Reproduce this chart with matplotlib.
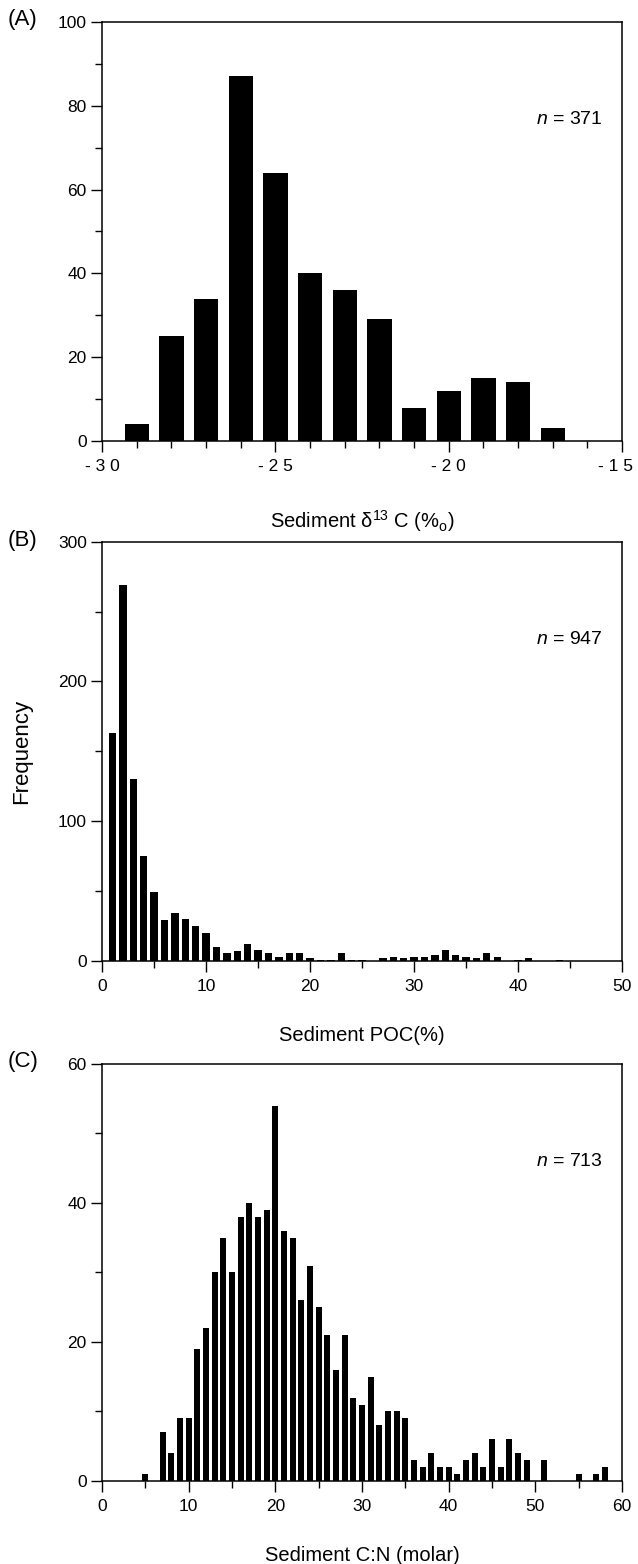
import matplotlib
matplotlib.use("Agg")
import matplotlib.pyplot as plt
import matplotlib.transforms as mtransforms
from matplotlib.ticker import MultipleLocator, FixedLocator

plt.rcParams['font.family'] = ['Liberation Sans', 'DejaVu Sans']
plt.rcParams['mathtext.fontset'] = 'custom'
plt.rcParams['mathtext.rm'] = 'Liberation Sans'
plt.rcParams['mathtext.it'] = 'Liberation Sans:italic'

# (A) sediment d13C, one bar per permil class
d13c_centres = [-29, -28, -27, -26, -25, -24, -23, -22, -21, -20, -19, -18, -17]
d13c_counts = [4, 25, 34, 87, 64, 40, 36, 29, 8, 12, 15, 14, 3]

# (B) sediment POC (%)
poc_centres = list(range(1, 45))
poc_counts = [163, 269, 130, 75, 49, 29, 34, 30, 25, 20,
              10, 6, 7, 12, 8, 6, 3, 6, 6, 2,
              1, 1, 6, 1, 1, 0, 2, 3, 2, 3,
              3, 4, 8, 4, 3, 2, 6, 3, 0, 1,
              2, 0, 0, 1]

# (C) sediment C:N (molar)
cn_centres = [5, 7, 8, 9, 10, 11, 12, 13, 14, 15, 16, 17, 18, 19, 20,
              21, 22, 23, 24, 25, 26, 27, 28, 29, 30, 31, 32, 33, 34, 35,
              36, 37, 38, 39, 40, 41, 42, 43, 44, 45, 46, 47, 48, 49,
              51, 55, 57, 58]
cn_counts = [1, 7, 4, 9, 9, 19, 22, 30, 35, 30, 38, 40, 38, 39, 54,
             36, 35, 26, 31, 25, 21, 16, 21, 12, 11, 15, 8, 10, 10, 9,
             3, 2, 4, 2, 2, 1, 3, 4, 2, 6, 2, 6, 4, 3,
             3, 1, 1, 2]

a_ticks = [-30, -25, -20, -15]
a_ticklabels = ['- 3 0', '- 2 5', '- 2 0', '- 1 5']

fig = plt.figure(figsize=(6.38, 15.64), dpi=100)
left, width, height = 0.160, 0.815, 0.268
axA = fig.add_axes([left, 0.718, width, height])
axB = fig.add_axes([left, 0.3856, width, height])
axC = fig.add_axes([left, 0.0531, width, 0.2666])


def style(ax):
    for s in ax.spines.values():
        s.set_linewidth(1.1)
    ax.tick_params(which='both', direction='out', top=False, right=False,
                   labelsize=12.5, width=1.0)
    ax.tick_params(axis='x', which='both', pad=5)
    ax.tick_params(axis='y', which='both', pad=3)
    ax.tick_params(which='major', length=8)
    ax.tick_params(which='minor', length=5)


def nudge_last_xlabel(ax, dx_px):
    # the last x tick label sits a little left of the right spine
    lab = ax.get_xticklabels()[-1]
    off = mtransforms.ScaledTranslation(dx_px / 100, 0, fig.dpi_scale_trans)
    lab.set_transform(lab.get_transform() + off)


axA.bar(d13c_centres, d13c_counts, width=0.7, color='black')
axA.set_xlim(-30, -15)
axA.set_ylim(0, 100)
axA.xaxis.set_major_locator(FixedLocator(a_ticks))
axA.set_xticklabels(a_ticklabels)
axA.xaxis.set_minor_locator(MultipleLocator(1))
axA.yaxis.set_major_locator(MultipleLocator(20))
axA.yaxis.set_minor_locator(MultipleLocator(10))
style(axA)
axA.set_xlabel(r'Sediment $\mathregular{\delta^{13}}$ C (%$\mathregular{_o}$)', fontsize=14.5)
axA.xaxis.set_label_coords(0.5, -0.16)
axA.text(0.963, 0.766, r'$\mathit{n}$ = 371', transform=axA.transAxes,
         ha='right', va='center', fontsize=14)

axB.bar(poc_centres, poc_counts, width=0.7, color='black')
axB.set_xlim(0, 50)
axB.set_ylim(0, 300)
axB.xaxis.set_major_locator(MultipleLocator(10))
axB.xaxis.set_minor_locator(MultipleLocator(5))
axB.yaxis.set_major_locator(MultipleLocator(100))
axB.yaxis.set_minor_locator(MultipleLocator(50))
style(axB)
axB.set_xlabel('Sediment POC(%)', fontsize=14.5)
axB.xaxis.set_label_coords(0.5, -0.155)
axB.set_ylabel('Frequency', fontsize=16)
axB.yaxis.set_label_coords(-0.135, 0.5)
axB.text(0.963, 0.766, r'$\mathit{n}$ = 947', transform=axB.transAxes,
         ha='right', va='center', fontsize=14)

axC.bar(cn_centres, cn_counts, width=0.7, color='black')
axC.set_xlim(0, 60)
axC.set_ylim(0, 60)
axC.xaxis.set_major_locator(MultipleLocator(10))
axC.xaxis.set_minor_locator(MultipleLocator(5))
axC.yaxis.set_major_locator(MultipleLocator(20))
axC.yaxis.set_minor_locator(MultipleLocator(10))
style(axC)
axC.set_xlabel('Sediment C:N (molar)', fontsize=14.5)
axC.xaxis.set_label_coords(0.5, -0.155)
axC.text(0.963, 0.766, r'$\mathit{n}$ = 713', transform=axC.transAxes,
         ha='right', va='center', fontsize=14)

nudge_last_xlabel(axA, -7)
nudge_last_xlabel(axB, -6)
nudge_last_xlabel(axC, -4)

# panel letters
for lab, ypix in [('(A)', 20), ('(B)', 540), ('(C)', 1062)]:
    fig.text(8 / 638, 1 - ypix / 1564, lab, ha='left', va='center', fontsize=16)

fig.savefig('out.png', dpi=100)
